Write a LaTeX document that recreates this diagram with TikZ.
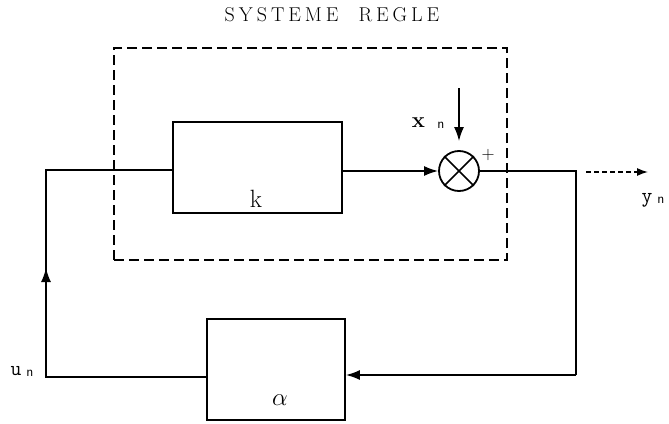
\documentclass[tikz,border=0pt]{standalone}
\usepackage{fontspec}
\usetikzlibrary{arrows.meta}
\newcommand\heavy{\addfontfeatures{FakeBold=1.5}}
\begin{document}
\begin{tikzpicture}[x=1pt,y=-1pt,
  line/.style={line width=1.7pt},
  tip/.style={-{Latex[length=14pt,width=10pt]}},
  blk/.style={draw,line width=1.7pt,rectangle,inner sep=0pt},
  lbl/.style={inner sep=0pt,anchor=base},
  sub/.style={inner sep=0pt,anchor=base,font=\sffamily\fontsize{14}{16}\selectfont\heavy}]
\useasboundingbox (0,0) rectangle (669,423);
% title
\node[inner sep=0pt] (title) at (332,14.5) {\fontsize{20}{24}\selectfont\heavy S\kern4pt Y\kern4pt S\kern4pt T\kern4pt E\kern4pt M\kern4pt E\hspace{20pt}R\kern4pt E\kern4pt G\kern4pt L\kern4pt E};
% dashed system box
\node[draw,line width=1.7pt,dash pattern=on 10pt off 5pt,minimum width=393pt,minimum height=212pt,inner sep=0pt] (sys) at (310.5,154) {};
% blocks
\node[blk,minimum width=169pt,minimum height=91pt] (k) at (257.5,167.5) {};
\node[lbl,font=\fontsize{25}{28}\selectfont\heavy] (klbl) at (256,207) {k};
\node[blk,minimum width=138pt,minimum height=101pt] (a) at (276,369.5) {};
\node[lbl,font=\fontsize{25}{28}\selectfont] (albl) at (280,405) {$\alpha$};
% summing junction
\node[circle,draw,line width=1.8pt,minimum size=40pt,inner sep=0pt] (s) at (459,171) {};
\draw[line] (s.north west) -- (s.south east) (s.north east) -- (s.south west);
\node[inner sep=0pt,font=\fontsize{18}{20}\selectfont\heavy] (plus) at (488,155) {+};
% coordinates
\coordinate (xin) at (459,88);
\coordinate (c1) at (576,171);
\coordinate (c2) at (576,375);
\coordinate (c3) at (46,377);
\coordinate (c4) at (46,170);
\coordinate (c5) at (46,268);
\coordinate (y0) at (586,172);
\coordinate (y1) at (648,172);
% connectors
\draw[line,tip] (k.east |- s.west) -- (s.west);
\draw[line,tip,shorten >=9pt] (xin) -- (s.north);
\draw[line] (s.east) -- (c1) -- (c2);
\draw[line,tip] (c2) -- (a.east |- c2);
\draw[line] (a.west |- c3) -- (c3) -- (c4) -- (k.west |- c4);
\draw[line,tip] (c3) -- (c5);
\draw[line width=1.4pt,dash pattern=on 5pt off 3pt,-{Latex[length=11pt,width=8pt]}] (y0) -- (y1);
% labels
\node[lbl,font=\bfseries\fontsize{22}{26}\selectfont] (xl) at (418.5,127) {x};
\node[sub] (xn) at (441,128.5) {n};
\node[lbl,font=\ttfamily\fontsize{21}{24}\selectfont\heavy] (yl) at (647,202) {y};
\node[sub] (yn) at (661,203.5) {n};
\node[lbl,font=\ttfamily\fontsize{21}{24}\selectfont\heavy] (ul) at (16,375) {u};
\node[sub] (un) at (30,376.5) {n};
\end{tikzpicture}
\end{document}
